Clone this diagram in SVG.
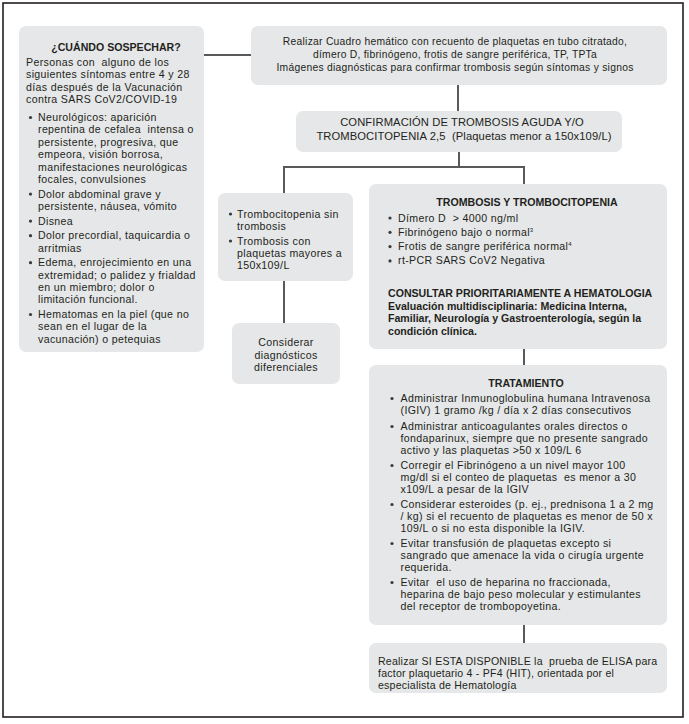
<svg xmlns="http://www.w3.org/2000/svg" width="689" height="724" viewBox="0 0 689 724">
<style>
.bg{fill:#ffffff}
.frame{fill:none;stroke:#231f20;stroke-width:1.6}
.box{fill:#e6e7e8}
.c{fill:none;stroke:#58595b;stroke-width:2}
text{font-family:"Liberation Sans",Arial,sans-serif;font-size:10.6px;letter-spacing:0.35px;fill:#231f20}
.s{font-size:10.3px;letter-spacing:0.27px}
.cf{font-size:11.2px;letter-spacing:0.1px}
.e{letter-spacing:0.2px}
.b{font-weight:bold;letter-spacing:0}
.m{text-anchor:middle}
.dot{fill:#3a3a3a}
</style>
<rect class="bg" x="0" y="0" width="689" height="724"/>
<rect class="frame" x="3" y="3" width="680" height="714"/>

<g id="connectors">
<path class="c" d="M204,55 H251"/>
<path class="c" d="M458,85 V111"/>
<path class="c" d="M459,152 V167 M284,167 H524 M284,166 V193 M524,166 V184"/>
<path class="c" d="M284,281 V323"/>
<path class="c" d="M524,349 V365"/>
<path class="c" d="M524,625 V643"/>
</g>

<g id="sospechar">
<rect class="box" x="19" y="26" width="185" height="326" rx="7"/>
<text class="b m" x="116" y="50.5" font-size="11">¿CUÁNDO SOSPECHAR?</text>
<text x="26" y="65.5" xml:space="preserve">Personas con  alguno de los</text>
<text x="26" y="78">siguientes síntomas entre 4 y 28</text>
<text x="26" y="90.5">días después de la Vacunación</text>
<text x="26" y="103">contra SARS CoV2/COVID-19</text>
<circle class="dot" cx="30.5" cy="117.5" r="1.6"/>
<text x="38" y="121">Neurológicos: aparición</text>
<text x="38" y="133.4" xml:space="preserve">repentina de cefalea  intensa o</text>
<text x="38" y="145.8">persistente, progresiva, que</text>
<text x="38" y="158.2">empeora, visión borrosa,</text>
<text x="38" y="170.6">manifestaciones neurológicas</text>
<text x="38" y="183">focales, convulsiones</text>
<circle class="dot" cx="30.5" cy="194.1" r="1.6"/>
<text x="38" y="197.6">Dolor abdominal grave y</text>
<text x="38" y="210">persistente, náusea, vómito</text>
<circle class="dot" cx="30.5" cy="221.1" r="1.6"/>
<text x="38" y="224.6">Disnea</text>
<circle class="dot" cx="30.5" cy="235.7" r="1.6"/>
<text x="38" y="239.2">Dolor precordial, taquicardia o</text>
<text x="38" y="251.6">arritmias</text>
<circle class="dot" cx="30.5" cy="262.7" r="1.6"/>
<text x="38" y="266.2">Edema, enrojecimiento en una</text>
<text x="38" y="278.6">extremidad; o palidez y frialdad</text>
<text x="38" y="291">en un miembro; dolor o</text>
<text x="38" y="303.4">limitación funcional.</text>
<circle class="dot" cx="30.5" cy="314.5" r="1.6"/>
<text x="38" y="318">Hematomas en la piel (que no</text>
<text x="38" y="330.4">sean en el lugar de la</text>
<text x="38" y="342.8">vacunación) o petequias</text>
</g>

<g id="laboratorio">
<rect class="box" x="251" y="26" width="416" height="59" rx="7"/>
<text class="s m" x="455" y="44.5">Realizar Cuadro hemático con recuento de plaquetas en tubo citratado,</text>
<text class="s m" x="455" y="57.5">dímero D, fibrinógeno, frotis de sangre periférica, TP, TPTa</text>
<text class="s m" x="455" y="70.5">Imágenes diagnósticas para confirmar trombosis según síntomas y signos</text>
</g>

<g id="confirmacion">
<rect class="box" x="296" y="111" width="326" height="41" rx="7"/>
<text class="cf m" x="462" y="126">CONFIRMACIÓN DE TROMBOSIS AGUDA Y/O</text>
<text class="cf m" x="464" y="139.5" xml:space="preserve">TROMBOCITOPENIA 2,5  (Plaquetas menor a 150x109/L)</text>
</g>

<g id="sin-trombosis">
<rect class="box" x="218" y="193" width="135" height="88" rx="7"/>
<circle class="dot" cx="230.5" cy="214" r="1.6"/>
<text x="237" y="217.5">Trombocitopenia sin</text>
<text x="237" y="229.8">trombosis</text>
<circle class="dot" cx="230.5" cy="241" r="1.6"/>
<text x="237" y="244.5">Trombosis con</text>
<text x="237" y="256.8">plaquetas mayores a</text>
<text x="237" y="269">150x109/L</text>
</g>

<g id="diferenciales">
<rect class="box" x="232" y="323" width="108" height="61" rx="7"/>
<text class="m" x="286" y="346">Considerar</text>
<text class="m" x="286" y="358.5">diagnósticos</text>
<text class="m" x="286" y="371">diferenciales</text>
</g>

<g id="trombosis-trombocitopenia">
<rect class="box" x="369" y="184" width="298" height="165" rx="7"/>
<text class="b m" x="527" y="206" letter-spacing="-0.2">TROMBOSIS Y TROMBOCITOPENIA</text>
<circle class="dot" cx="390" cy="218" r="1.6"/>
<text x="398" y="221.5" xml:space="preserve">Dímero D  &gt; 4000 ng/ml</text>
<circle class="dot" cx="390" cy="232.3" r="1.6"/>
<text x="398" y="235.8">Fibrinógeno bajo o normal<tspan font-size="6" dy="-4">3</tspan></text>
<circle class="dot" cx="390" cy="246.6" r="1.6"/>
<text x="398" y="250.1">Frotis de sangre periférica normal<tspan font-size="6" dy="-4">4</tspan></text>
<circle class="dot" cx="390" cy="260.9" r="1.6"/>
<text x="398" y="264.4">rt-PCR SARS CoV2 Negativa</text>
<text class="b" x="388" y="296.5" letter-spacing="-0.35">CONSULTAR PRIORITARIAMENTE A HEMATOLOGIA</text>
<text class="b" x="388" y="309.5">Evaluación multidisciplinaria: Medicina Interna,</text>
<text class="b" x="388" y="322">Familiar, Neurología y Gastroenterología, según la</text>
<text class="b" x="388" y="334.5">condición clínica.</text>
</g>

<g id="tratamiento">
<rect class="box" x="369" y="365" width="298" height="260" rx="7"/>
<text class="b m" x="526" y="386.5" font-size="11.2">TRATAMIENTO</text>
<circle class="dot" cx="392" cy="398.5" r="1.6"/>
<text x="400.5" y="402">Administrar Inmunoglobulina humana Intravenosa</text>
<text x="400.5" y="414">(IGIV) 1 gramo /kg / día x 2 días consecutivos</text>
<circle class="dot" cx="392" cy="426.5" r="1.6"/>
<text x="400.5" y="430">Administrar anticoagulantes orales directos o</text>
<text x="400.5" y="442">fondaparinux, siempre que no presente sangrado</text>
<text x="400.5" y="454">activo y las plaquetas &gt;50 x 109/L 6</text>
<circle class="dot" cx="392" cy="465.5" r="1.6"/>
<text x="400.5" y="469">Corregir el Fibrinógeno a un nivel mayor 100</text>
<text x="400.5" y="481" xml:space="preserve">mg/dl si el conteo de plaquetas  es menor a 30</text>
<text x="400.5" y="493">x109/L a pesar de la IGIV</text>
<circle class="dot" cx="392" cy="504.5" r="1.6"/>
<text x="400.5" y="508">Considerar esteroides (p. ej., prednisona 1 a 2 mg</text>
<text x="400.5" y="520">/ kg) si el recuento de plaquetas es menor de 50 x</text>
<text x="400.5" y="532">109/L o si no esta disponible la IGIV.</text>
<circle class="dot" cx="392" cy="543.5" r="1.6"/>
<text x="400.5" y="547">Evitar transfusión de plaquetas excepto si</text>
<text x="400.5" y="559">sangrado que amenace la vida o cirugía urgente</text>
<text x="400.5" y="571">requerida.</text>
<circle class="dot" cx="392" cy="582.5" r="1.6"/>
<text x="400.5" y="586" xml:space="preserve">Evitar  el uso de heparina no fraccionada,</text>
<text x="400.5" y="598">heparina de bajo peso molecular y estimulantes</text>
<text x="400.5" y="610">del receptor de trombopoyetina.</text>
</g>

<g id="elisa">
<rect class="box" x="369" y="643" width="298" height="50" rx="7"/>
<text class="e" x="378" y="664.5" xml:space="preserve">Realizar SI ESTA DISPONIBLE la  prueba de ELISA para</text>
<text class="e" x="378" y="676.5">factor plaquetario 4 - PF4 (HIT), orientada por el</text>
<text class="e" x="378" y="688.5">especialista de Hematología</text>
</g>
</svg>
